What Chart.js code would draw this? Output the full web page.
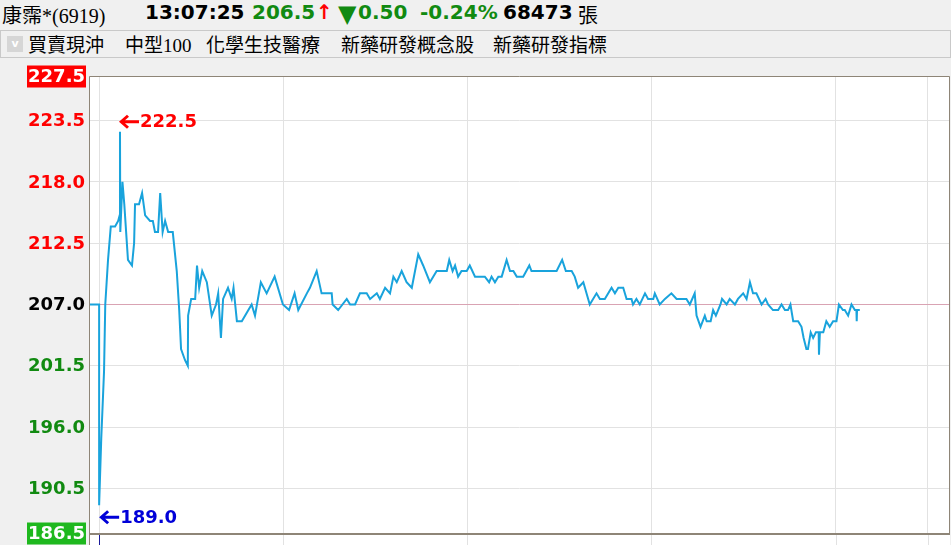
<!DOCTYPE html>
<html>
<head>
<meta charset="utf-8">
<script src="https://cdn.jsdelivr.net/npm/chart.js@4"></script>
<style>
  html, body { margin: 0; padding: 0; background: #f0f0f0; }
  body { width: 951px; height: 545px; position: relative; overflow: hidden; font-family: "DejaVu Sans", sans-serif; }
  .hd { position: absolute; top: 0; height: 28px; line-height: 28px; white-space: nowrap; font: bold 20px "DejaVu Sans", sans-serif; }
  .name { font: 20px "Liberation Serif", "Noto Sans CJK TC", serif; }
  .cjk { font: 20px "Liberation Serif", "Noto Sans CJK TC", serif; }
  .tri { font: 24px "DejaVu Sans", sans-serif; }
  #toolbar { position: absolute; left: 0; top: 30px; width: 949px; height: 26px; border: 1px solid #c9c9c9; background: #f0f0f0; }
  #toolbar .chk { position: absolute; left: 6px; top: 5px; width: 16px; height: 16px; background: #d6d6d6; color: #fff; font: bold 11px "DejaVu Sans"; line-height: 16px; text-align: center; }
  #toolbar .tag { position: absolute; top: -1px; line-height: 26px; white-space: nowrap; font: 19px "Liberation Serif", "Noto Sans CJK TC", serif; color: #000; }
  #wrap { position: absolute; left: 0; top: 60px; width: 951px; height: 485px; }
</style>
</head>
<body>
<div id="header"></div>
<div id="toolbar"><div class="chk">v</div></div>
<div id="wrap"><canvas id="chart"></canvas></div>
<script>
// quote header
const stockName = '康霈*(6919)';
const quoteTime = '13:07:25';
const lastPrice = '206.5';
const priceChange = '0.50';
const changePct = '-0.24%';
const totalVolume = '68473';
const groupTags = ['買賣現沖', '中型100', '化學生技醫療', '新藥研發概念股', '新藥研發指標'];

// intraday ticks, minutes after 09:00
const minutes = [
  -3.3, 0, 0, 0.7, 1.6, 2.0, 2.9, 3.8, 5.2, 6.2, 6.7, 6.8, 6.9, 7.6, 8.2, 9.4, 10.7, 11.4, 11.7, 13.0,
  14.0, 15.0, 16.6, 17.5, 18.2, 19.2, 19.9, 20.7, 21.5, 22.5, 24.0, 25.3, 26.1, 26.7, 28.0, 28.9, 29.0, 30.0, 31.3, 31.9,
  32.6, 33.6, 35.1, 36.7, 38.1, 38.8, 39.7, 40.4, 42.0, 43.2, 43.8, 44.9, 46.5, 49.7, 50.8, 52.7, 54.6, 57.2, 59.9, 61.9,
  63.7, 64.9, 67.7, 68.7, 70.9, 72.5, 75.8, 76.1, 77.9, 80.7, 81.8, 83.4, 85.0, 87.2, 88.3, 90.5, 91.5, 93.2, 94.8, 95.9,
  97.0, 98.6, 100.2, 101.9, 104.0, 105.6, 107.8, 110.0, 113.3, 114.1, 115.2, 116.0, 117.0, 118.1, 119.8, 120.8, 122.5, 125.7, 127.1, 127.9,
  129.0, 130.1, 131.2, 132.8, 133.9, 135.0, 136.1, 138.2, 140.2, 140.9, 149.1, 150.9, 152.1, 154.0, 155.0, 156.1, 157.8, 159.9, 162.1, 163.2,
  164.8, 167.0, 168.1, 169.2, 170.8, 171.9, 173.5, 174.0, 175.1, 176.2, 177.9, 178.9, 180.6, 181.1, 182.7, 184.4, 186.5, 188.2, 191.4, 192.5,
  194.1, 194.7, 196.0, 197.4, 198.0, 199.3, 200.1, 201.0, 202.5, 203.0, 204.5, 205.5, 207.2, 208.2, 209.9, 211.0, 212.1, 213.1, 214.2, 215.9,
  217.2, 218.0, 219.6, 221.3, 222.4, 223.5, 224.5, 225.3, 226.2, 227.8, 228.9, 229.6, 230.5, 231.0, 231.9, 232.7, 233.6, 234.5, 234.6, 234.9,
  236.0, 237.0, 238.1, 239.2, 240.3, 241.1, 242.4, 243.0, 244.1, 245.2, 246.3, 246.8, 246.9, 247.0, 247.9
];
const prices = [
  207.0, 207.0, 189.0, 195.0, 201.0, 207.0, 211.0, 214.0, 214.0, 214.5, 215.0, 222.5, 213.5, 218.0, 216.0, 211.0, 210.5, 212.5, 216.0, 216.0,
  217.0, 215.0, 214.5, 214.5, 213.5, 213.5, 217.0, 213.5, 214.5, 213.5, 213.5, 210.0, 206.5, 203.0, 202.0, 201.5, 206.0, 207.5, 207.5, 210.5,
  208.5, 210.0, 209.0, 206.0, 207.0, 208.0, 204.0, 207.5, 208.5, 207.5, 208.5, 205.5, 205.5, 207.0, 206.0, 209.0, 208.0, 209.5, 207.0, 206.5,
  208.0, 206.5, 208.0, 208.5, 210.0, 208.0, 208.0, 207.0, 206.5, 207.5, 207.0, 207.0, 208.0, 208.0, 207.5, 208.0, 207.5, 208.5, 208.0, 209.5,
  209.0, 210.0, 209.0, 208.5, 211.5, 210.5, 209.0, 210.0, 210.0, 211.0, 210.0, 210.5, 209.5, 210.0, 210.0, 210.5, 209.5, 209.5, 209.0, 209.5,
  209.0, 209.5, 209.5, 211.0, 210.0, 210.0, 209.5, 209.5, 210.5, 210.0, 210.0, 211.0, 210.0, 210.0, 209.5, 208.5, 209.0, 207.0, 208.0, 207.5,
  207.5, 208.5, 208.0, 208.5, 208.5, 207.5, 207.5, 207.0, 207.5, 207.0, 208.0, 207.5, 207.5, 208.0, 207.0, 207.5, 208.0, 207.5, 207.5, 207.0,
  208.0, 206.0, 205.0, 206.0, 205.5, 205.5, 206.5, 206.0, 207.0, 207.5, 207.0, 207.5, 207.0, 207.5, 208.0, 207.5, 209.0, 208.0, 208.0, 207.0,
  207.5, 207.0, 206.5, 206.5, 207.0, 206.5, 206.5, 207.0, 205.5, 205.5, 205.0, 204.0, 203.0, 203.0, 204.5, 204.0, 204.5, 204.5, 202.5, 204.5,
  204.5, 205.5, 205.0, 205.5, 205.5, 207.0, 206.5, 206.5, 206.0, 207.0, 206.5, 206.5, 205.5, 206.5, 206.5
];

const yTicks = [186.5, 190.5, 196.0, 201.5, 207.0, 212.5, 218.0, 223.5, 227.5];
const xTicks = [0, 60, 120, 180, 240, 270];
const refPrice = 207.0;

const RED = '#ff0000';
const GREEN = '#118a11';
const GREEN_BOX = '#1eb81e';
const BLUE = '#0000d8';
const LINE = '#19a3dc';
const GRID = '#e2e2e2';
const FRAME = '#8e8577';

// header + toolbar
const header = document.getElementById('header');
function hd(text, left, color, cls) {
    const s = document.createElement('span');
    s.className = 'hd' + (cls ? ' ' + cls : '');
    s.style.left = left + 'px';
    s.style.color = color;
    s.textContent = text;
    header.appendChild(s);
}
hd(stockName, 2, '#000', 'name');
hd(quoteTime, 145, '#000');
hd(lastPrice, 252, GREEN);
hd('↑', 316, RED);
hd('▼', 338, GREEN, 'tri');
hd(priceChange, 358, GREEN);
hd(changePct, 420, GREEN);
hd(totalVolume, 503, '#000');
hd('張', 578, '#000', 'cjk');

const tagLeft = [27, 124, 205, 340, 492];
groupTags.forEach((t, i) => {
    const d = document.createElement('div');
    d.className = 'tag';
    d.style.left = tagLeft[i] + 'px';
    d.textContent = t;
    document.getElementById('toolbar').appendChild(d);
});

// white plot background
const plotBg = {
    id: 'plotBg',
    beforeDraw(chart) {
        const { ctx, chartArea: a } = chart;
        ctx.save();
        ctx.fillStyle = '#fff';
        ctx.fillRect(a.left, a.top, a.right - a.left, chart.height - a.top);
        ctx.restore();
    }
};

// bold left arrow with its tip at (x, y)
function leftArrow(ctx, x, y) {
    ctx.beginPath();
    ctx.moveTo(x, y);
    ctx.lineTo(x + 8, y - 7);
    ctx.lineTo(x + 10, y - 5);
    ctx.lineTo(x + 6, y - 1.5);
    ctx.lineTo(x + 20, y - 1.5);
    ctx.lineTo(x + 20, y + 1.5);
    ctx.lineTo(x + 6, y + 1.5);
    ctx.lineTo(x + 10, y + 5);
    ctx.lineTo(x + 8, y + 7);
    ctx.closePath();
    ctx.fill();
}

// frame, lower strip, y labels, high/low marks
const decorations = {
    id: 'decorations',
    afterDraw(chart) {
        const { ctx, chartArea: a, scales: { x, y } } = chart;
        ctx.save();

        // lower (volume) strip grid
        ctx.strokeStyle = GRID;
        ctx.lineWidth = 1;
        xTicks.forEach(t => {
            const px = Math.round(x.getPixelForValue(t)) + 0.5;
            ctx.beginPath();
            ctx.moveTo(px, a.bottom);
            ctx.lineTo(px, chart.height);
            ctx.stroke();
        });
        ctx.strokeStyle = '#1a1a9a';
        const px0 = Math.round(x.getPixelForValue(minutes[1])) + 0.5;
        ctx.beginPath();
        ctx.moveTo(px0, a.bottom);
        ctx.lineTo(px0, chart.height);
        ctx.stroke();

        // frame
        ctx.strokeStyle = FRAME;
        ctx.lineWidth = 1;
        ctx.beginPath();
        ctx.moveTo(a.left + 0.5, chart.height);
        ctx.lineTo(a.left + 0.5, a.top + 0.5);
        ctx.lineTo(a.right - 0.5, a.top + 0.5);
        ctx.lineTo(a.right - 0.5, a.bottom);
        ctx.stroke();
        ctx.lineWidth = 2;
        ctx.beginPath();
        ctx.moveTo(a.left, a.bottom + 1);
        ctx.lineTo(a.right, a.bottom + 1);
        ctx.stroke();

        // y labels
        ctx.font = 'bold 18px "DejaVu Sans"';
        ctx.textAlign = 'right';
        ctx.textBaseline = 'middle';
        yTicks.forEach((v, i) => {
            const py = y.getPixelForValue(v);
            const text = v.toFixed(1);
            let color = v > refPrice ? RED : (v < refPrice ? GREEN : '#000');
            if (i === 0 || i === yTicks.length - 1) {
                ctx.fillStyle = i === 0 ? GREEN_BOX : RED;
                ctx.fillRect(a.left - 62, py - 10.5, 59, 22);
                color = '#fff';
            }
            ctx.fillStyle = color;
            ctx.fillText(text, a.left - 4, py + 1);
        });

        // high / low marks
        let hi = 0, lo = 0;
        prices.forEach((p, i) => {
            if (p > prices[hi]) hi = i;
            if (p < prices[lo]) lo = i;
        });
        ctx.textAlign = 'left';
        const hx = x.getPixelForValue(minutes[hi]) - 1, hy = y.getPixelForValue(prices[hi]) - 10;
        ctx.fillStyle = RED;
        leftArrow(ctx, hx, hy);
        ctx.fillText(prices[hi].toFixed(1), hx + 21, hy + 1);
        const lx = x.getPixelForValue(minutes[lo]), ly = y.getPixelForValue(prices[lo]) + 12;
        ctx.fillStyle = BLUE;
        leftArrow(ctx, lx, ly);
        ctx.fillText(prices[lo].toFixed(1), lx + 21, ly + 1);

        ctx.restore();
    }
};

new Chart(document.getElementById('chart'), {
    type: 'line',
    data: {
        datasets: [{
            data: minutes.map((m, i) => ({ x: m, y: prices[i] })),
            borderColor: LINE,
            borderWidth: 2,
            pointRadius: 0,
            tension: 0,
            fill: false
        }]
    },
    options: {
        responsive: true,
        maintainAspectRatio: false,
        animation: false,
        events: [],
        layout: { padding: { left: 89, top: 16, right: 1, bottom: 12 } },
        plugins: { legend: { display: false }, tooltip: { enabled: false } },
        scales: {
            x: {
                type: 'linear',
                min: -3.3,
                max: 277.3,
                afterBuildTicks: s => { s.ticks = xTicks.map(v => ({ value: v })); },
                ticks: { display: false },
                border: { display: false },
                grid: { color: GRID, drawTicks: false }
            },
            y: {
                min: yTicks[0],
                max: yTicks[yTicks.length - 1],
                afterBuildTicks: s => { s.ticks = yTicks.map(v => ({ value: v })); },
                ticks: { display: false },
                border: { display: false },
                grid: {
                    drawTicks: false,
                    color: c => c.tick && c.tick.value === refPrice ? '#d9a3b3' : GRID
                }
            }
        }
    },
    plugins: [plotBg, decorations]
});
</script>
</body>
</html>
